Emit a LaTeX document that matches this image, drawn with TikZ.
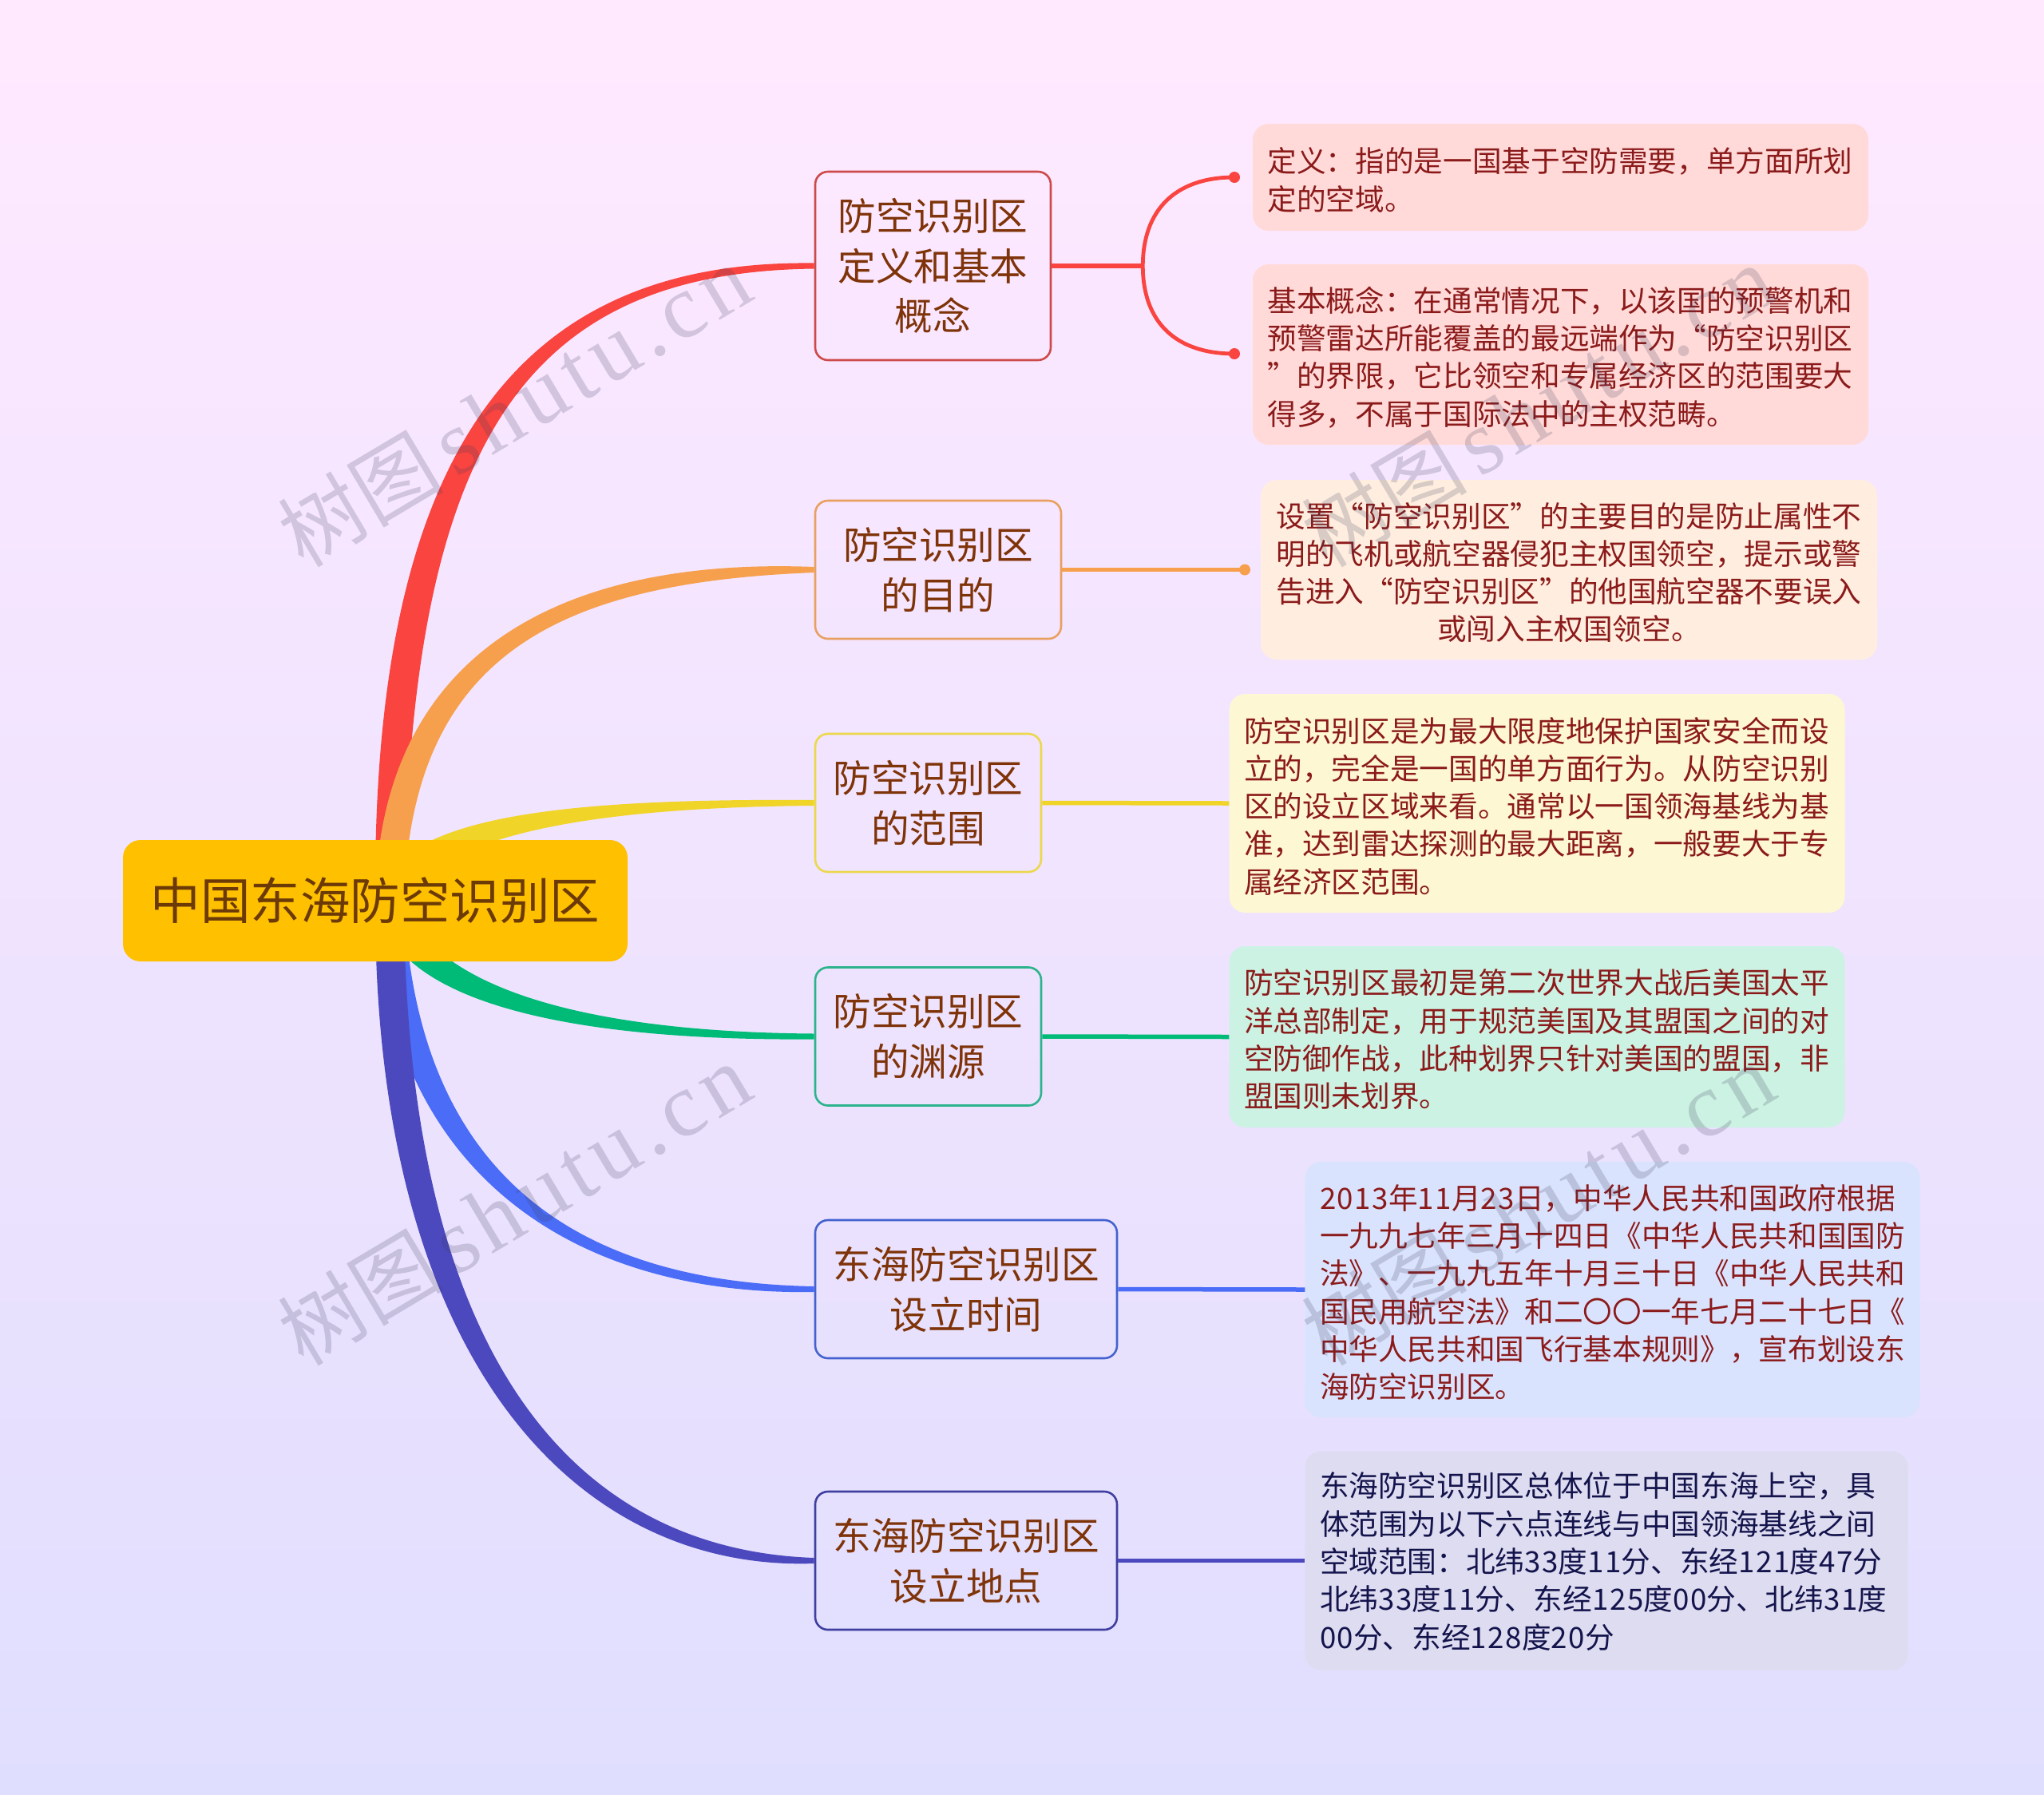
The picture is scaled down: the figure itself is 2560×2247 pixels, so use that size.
\documentclass[tikz,border=0pt]{standalone}
\usepackage{fontspec}
\usetikzlibrary{calc}
\setmainfont{Noto Sans CJK SC}
\newfontfamily\wmlatin[LetterSpace=7]{Liberation Serif}
\newfontfamily\dgfont[LetterSpace=4.5]{Noto Sans CJK SC}
\newcommand{\dg}[1]{{\dgfont #1}}
\newcommand{\zc}{\char"FF0C\relax}
\newcommand{\zk}{\char"FF1A\relax}
\pgfdeclarelayer{backlayer}
\pgfdeclarelayer{bandlayer}
\pgfdeclarelayer{marklayer}
\pgfsetlayers{backlayer,bandlayer,main,marklayer}
\definecolor{bgtop}{HTML}{FFE9FF}
\definecolor{bgbot}{HTML}{E0DEFE}
\definecolor{croot}{HTML}{FFC000}
\definecolor{cred}{HTML}{F94440}
\definecolor{corange}{HTML}{F6A04D}
\definecolor{cyellow}{HTML}{F0D428}
\definecolor{cgreen}{HTML}{00BB77}
\definecolor{cblue}{HTML}{4A6CF7}
\definecolor{cnavy}{HTML}{4C49BE}
\definecolor{bred}{HTML}{CC4A4A}
\definecolor{borange}{HTML}{E8A060}
\definecolor{byellow}{HTML}{EBD84B}
\definecolor{bgreen}{HTML}{2CB38C}
\definecolor{bblue}{HTML}{4462CF}
\definecolor{bnavy}{HTML}{3F3F9F}
\definecolor{fred}{HTML}{FFDAD9}
\definecolor{forange}{HTML}{FFEEDF}
\definecolor{fyellow}{HTML}{FEF7D4}
\definecolor{fgreen}{HTML}{CCF2E3}
\definecolor{fblue}{HTML}{DAE3FD}
\definecolor{fnavy}{HTML}{DEDCF0}
\definecolor{tbranch}{HTML}{7F3308}
\definecolor{troot}{HTML}{6B3A07}
\definecolor{tleaf}{HTML}{8B1A1A}
\definecolor{tnavy}{HTML}{14144D}
\definecolor{wm}{HTML}{3C3C5A}
\tikzset{
  rootbox/.style={fill=croot,rounded corners=22pt,inner sep=0pt,text=troot,align=center,
    font=\fontsize{62.5}{80}\selectfont,minimum width=632pt,minimum height=152pt},
  branchbox/.style={draw=#1,line width=2.6pt,rounded corners=16pt,inner sep=0pt,text=tbranch,align=center,
    font=\fontsize{47.6}{62.8}\selectfont},
  leafbox/.style={fill=#1,rounded corners=20pt,inner xsep=18.5pt,inner ysep=0pt,text=tleaf,align=left,
    font=\fontsize{36.65}{47.3}\selectfont,execute at end node={\par\vspace{-7pt}}},
  dotnode/.style={circle,fill=#1,inner sep=0pt,minimum size=14pt},
  stem/.style={draw=#1,line width=5.5pt},
  wmtext/.style={text=wm,opacity=.2,rotate=30.8,inner sep=0pt},
}
% colour, target, start offset, c1 point, c1 offset, c2 dx, c2 y offset, end y offset
\newcommand{\taper}[8]{%
  \fill[#1] ($(rc)+(#3)$) .. controls ($(#4)+(#5)$) and ($(#2.west)+(-#6,#7)$) .. ($(#2.west)+(0,#8)$)
    -- ($(#2.west)-(0,#8)$) .. controls ($(#2.west)-(#6,#7)$) and ($(#4)-(#5)$) .. ($(rc)-(#3)$) -- cycle;}
\newcommand{\wmark}[2]{\node[wmtext] (#2) at (#1) {\fontsize{104}{110}\selectfont 树图\hspace{14pt}\fontsize{114}{114}\wmlatin shutu.cn};}
\begin{document}
\begin{tikzpicture}[x=1pt,y=-1pt]
\useasboundingbox (0,0) rectangle (2560,2247);
\begin{pgfonlayer}{backlayer}
\shade[top color=bgtop,bottom color=bgbot] (0,0) rectangle (2560,2247);
\end{pgfonlayer}

\node[rootbox] (root) at (470,1128) {中国东海防空识别区};
\coordinate (rc) at ($(root.center)+(18,0)$);

\node[branchbox=bred,minimum width=295pt,minimum height=236pt] (b1) at (1168.5,333) {防空识别区\\定义和基本\\概念};
\node[branchbox=borange,minimum width=308pt,minimum height=173pt] (b2) at (1175,713.5) {防空识别区\\的目的};
\node[branchbox=byellow,minimum width=283pt,minimum height=173pt] (b3) at (1162.5,1005.5) {防空识别区\\的范围};
\node[branchbox=bgreen,minimum width=283pt,minimum height=173pt] (b4) at (1162.5,1298) {防空识别区\\的渊源};
\node[branchbox=bblue,minimum width=378pt,minimum height=173pt] (b5) at (1210,1614.5) {东海防空识别区\\设立时间};
\node[branchbox=bnavy,minimum width=378pt,minimum height=173pt] (b6) at (1210,1954.5) {东海防空识别区\\设立地点};

\begin{pgfonlayer}{bandlayer}
\taper{cred}{b1}{-18,0}{490,550}{-24,0}{361}{-8}{-3.5}
\taper{corange}{b2}{-18,0}{495,820}{-20,0}{321}{-16}{-3.5}
\taper{cyellow}{b3}{-10,-16}{520,1040}{-10,-16}{321}{-6}{-3.5}
\taper{cgreen}{b4}{-12,14}{510,1230}{-12,14}{341}{6}{3.5}
\taper{cblue}{b5}{-18,0}{500,1450}{-20,0}{321}{9}{3.5}
\taper{cnavy}{b6}{-18,0}{488,1700}{-20,0}{301}{14}{3.5}
\end{pgfonlayer}

\node[leafbox=fred,text width=734pt,minimum height=134pt] (l1a) at (1954.5,222) {定义\zk{}指的是一国基于空防需要\zc{}单方面所划\\定的空域。};
\node[leafbox=fred,text width=734pt,minimum height=226pt] (l1b) at (1954.5,444) {基本概念\zk{}在通常情况下\zc{}以该国的预警机和\\预警雷达所能覆盖的最远端作为“防空识别区\\”的界限\zc{}它比领空和专属经济区的范围要大\\得多\zc{}不属于国际法中的主权范畴。};
\node[leafbox=forange,text width=735pt,minimum height=225pt,align=center] (l2) at (1965,713.5) {设置“防空识别区”的主要目的是防止属性不\\明的飞机或航空器侵犯主权国领空\zc{}提示或警\\告进入“防空识别区”的他国航空器不要误入\\或闯入主权国领空。};
\node[leafbox=fyellow,text width=734pt,minimum height=274pt] (l3) at (1925,1006) {防空识别区是为最大限度地保护国家安全而设\\立的\zc{}完全是一国的单方面行为。从防空识别\\区的设立区域来看。通常以一国领海基线为基\\准\zc{}达到雷达探测的最大距离\zc{}一般要大于专\\属经济区范围。};
\node[leafbox=fgreen,text width=734pt,minimum height=227pt] (l4) at (1925,1298.5) {防空识别区最初是第二次世界大战后美国太平\\洋总部制定\zc{}用于规范美国及其盟国之间的对\\空防御作战\zc{}此种划界只针对美国的盟国\zc{}非\\盟国则未划界。};
\node[leafbox=fblue,text width=733pt,minimum height=320pt] (l5) at (2019.5,1615) {\dg{2013}年\dg{11}月\dg{23}日\zc{}中华人民共和国政府根据\\一九九七年三月十四日《中华人民共和国国防\\法》、一九九五年十月三十日《中华人民共和\\国民用航空法》和二〇〇一年七月二十七日《\\中华人民共和国飞行基本规则》\zc{}宣布划设东\\海防空识别区。};
\node[leafbox=fnavy,text=tnavy,text width=718pt,minimum height=274pt,execute at end node={\par\vspace{5pt}}] (l6) at (2012,1954.5) {东海防空识别区总体位于中国东海上空\zc{}具\\体范围为以下六点连线与中国领海基线之间\\空域范围\zk{}北纬\dg{33}度\dg{11}分、东经\dg{121}度\dg{47}分\\北纬\dg{33}度\dg{11}分、东经\dg{125}度\dg{00}分、北纬\dg{31}度\\\dg{00}分、东经\dg{128}度\dg{20}分};

\node[dotnode=cred] (d1a) at (1546,222) {};
\node[dotnode=cred] (d1b) at (1546,443) {};
\node[dotnode=corange] (d2) at (1559,713.5) {};
\coordinate (j1) at ($(b1.east)+(114,0)$);
\draw[stem=cred] (b1.east) -- (j1);
\draw[stem=cred,line width=4.8pt] (d1a.center) .. controls ($(d1a.center)+(-76,0)$) and ($(j1)+(0,-68)$) .. (j1)
   .. controls ($(j1)+(0,68)$) and ($(d1b.center)+(-76,0)$) .. (d1b.center);
\draw[stem=corange] (b2.east) -- (d2.center);
\draw[stem=cyellow] (b3.east) -- (l3.west);
\draw[stem=cgreen] (b4.east) -- (l4.west);
\draw[stem=cblue] (b5.east) -- (l5.west);
\draw[stem=cnavy] (b6.east) -- (l6.west);

\begin{pgfonlayer}{marklayer}
\wmark{644,509}{w1}
\wmark{1926,509}{w2}
\wmark{644,1509}{w3}
\wmark{1926,1509}{w4}
\end{pgfonlayer}
\end{tikzpicture}
\end{document}
